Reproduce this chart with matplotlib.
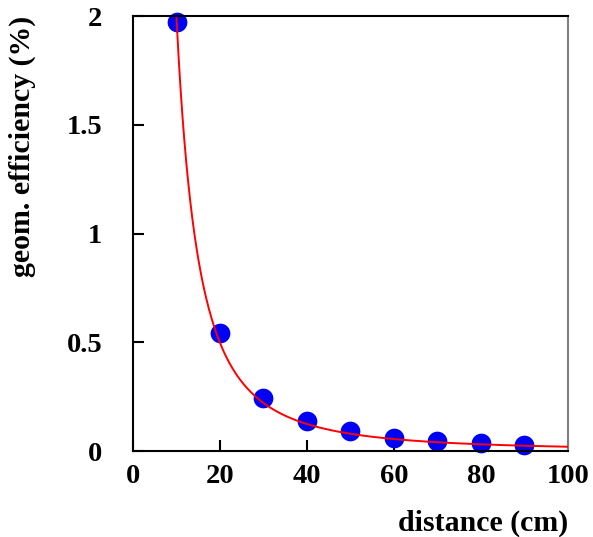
import numpy as np
import matplotlib
matplotlib.use("Agg")
import matplotlib.pyplot as plt

# measured geometric efficiency vs source distance
distance = [10, 20, 30, 40, 50, 60, 70, 80, 90]
efficiency = [1.975, 0.541, 0.244, 0.138, 0.091, 0.061, 0.047, 0.037, 0.029]

x_ticks = [0, 20, 40, 60, 80, 100]
y_ticks = [0, 0.5, 1, 1.5, 2]
y_tick_labels = ["0", "0.5", "1", "1.5", "2"]


def main():
    plt.rcParams['font.family'] = ['Liberation Serif', 'DejaVu Serif']
    plt.rcParams['font.weight'] = 'bold'

    fig = plt.figure(figsize=(5.93, 5.37), dpi=100)
    ax = fig.add_axes([0.2243, 0.160, 0.7335, 0.810])

    # inverse-square fit to the measured points
    d = np.array(distance, dtype=float)
    e = np.array(efficiency)
    a = np.sum(e / d**2) / np.sum(1.0 / d**4)
    xs = np.linspace(d[0], 100, 400)
    ax.plot(xs, a / xs**2, color='red', lw=1.4, zorder=3)

    ax.plot(distance, efficiency, 'o', color='#0000f5', markersize=14.2,
            markeredgewidth=0, zorder=2, clip_on=False)

    ax.set_xlim(0, 100)
    ax.set_ylim(0, 2)
    ax.set_xticks(x_ticks)
    ax.set_yticks(y_ticks)
    ax.set_yticklabels(y_tick_labels)
    ax.tick_params(direction='in', length=8, width=1.5, labelsize=20.5,
                   top=False, right=False)
    ax.tick_params(axis='x', pad=9)
    ax.tick_params(axis='y', pad=22)

    for s in ['left', 'bottom', 'top']:
        ax.spines[s].set_linewidth(1.5)
        ax.spines[s].set_color('black')
    ax.spines['right'].set_linewidth(1.5)
    ax.spines['right'].set_color('#808080')

    ax.set_xlabel('distance (cm)', fontsize=21.5, fontweight='bold', loc='right',
                  labelpad=15)
    ax.set_ylabel('geom. efficiency (%)', fontsize=21.5, fontweight='bold', loc='top',
                  labelpad=22)

    fig.savefig('out.png', dpi=100)


if __name__ == "__main__":
    main()
